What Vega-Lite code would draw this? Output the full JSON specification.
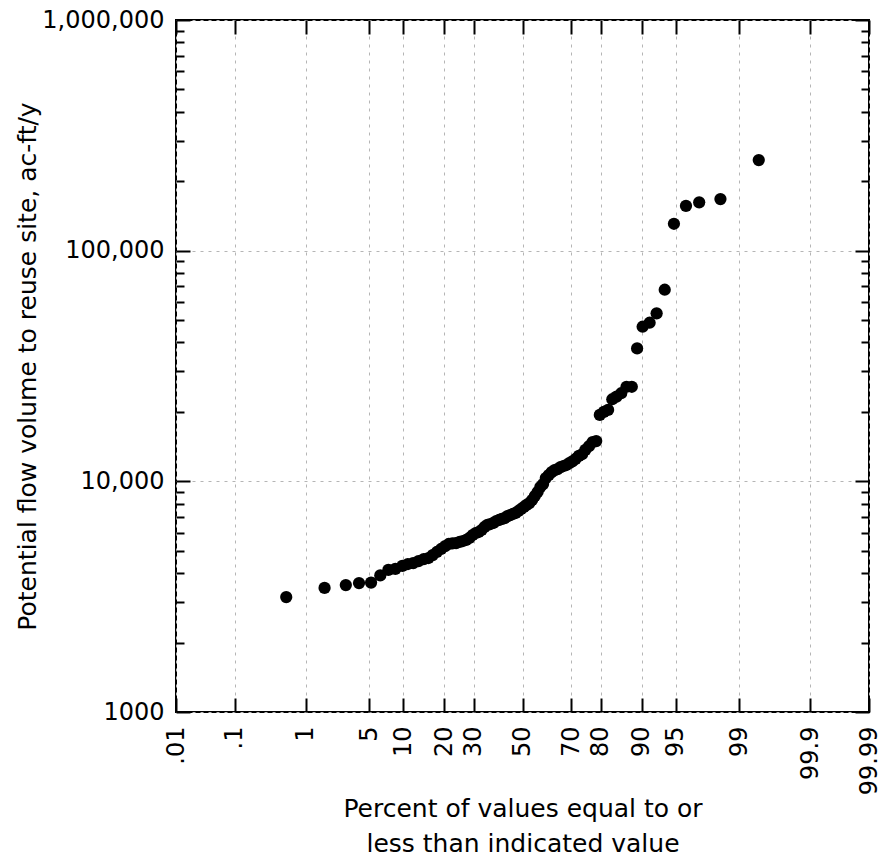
{
  "$schema": "https://vega.github.io/schema/vega-lite/v6.json",
  "width": 693,
  "height": 692,
  "autosize": "none",
  "padding": {"left": 176, "top": 20, "right": 20, "bottom": 146},
  "background": "white",
  "config": {
    "view": {"stroke": "black", "strokeWidth": 2},
    "axis": {
      "labelFont": "DejaVu Sans",
      "titleFont": "DejaVu Sans",
      "labelColor": "black",
      "titleColor": "black",
      "tickColor": "black",
      "domain": false,
      "tickWidth": 2,
      "titleFontWeight": "normal",
      "gridColor": "#b5b5b5",
      "gridDash": [3, 5],
      "gridWidth": 1,
      "labelFlush": false,
      "labelOverlap": false,
      "labelBound": false
    }
  },
  "data": {
    "values": [
      {"p": 0.58, "v": 3150}, {"p": 1.74, "v": 3450}, {"p": 2.91, "v": 3550}, {"p": 4.07, "v": 3620},
      {"p": 5.23, "v": 3640}, {"p": 6.40, "v": 3910}, {"p": 7.56, "v": 4130}, {"p": 8.72, "v": 4170},
      {"p": 9.88, "v": 4300}, {"p": 11.05, "v": 4380}, {"p": 12.21, "v": 4420}, {"p": 13.37, "v": 4510},
      {"p": 14.53, "v": 4600}, {"p": 15.70, "v": 4650}, {"p": 16.86, "v": 4790}, {"p": 18.02, "v": 4940},
      {"p": 19.19, "v": 5090}, {"p": 20.35, "v": 5240}, {"p": 21.51, "v": 5350}, {"p": 22.67, "v": 5380},
      {"p": 23.84, "v": 5400}, {"p": 25.00, "v": 5460}, {"p": 26.16, "v": 5510}, {"p": 27.33, "v": 5570},
      {"p": 28.49, "v": 5680}, {"p": 29.65, "v": 5850}, {"p": 30.81, "v": 5970}, {"p": 31.98, "v": 6030},
      {"p": 33.14, "v": 6150}, {"p": 34.30, "v": 6340}, {"p": 35.47, "v": 6470}, {"p": 36.63, "v": 6530},
      {"p": 37.79, "v": 6600}, {"p": 38.95, "v": 6730}, {"p": 40.12, "v": 6800}, {"p": 41.28, "v": 6870},
      {"p": 42.44, "v": 6930}, {"p": 43.60, "v": 7070}, {"p": 44.77, "v": 7140}, {"p": 45.93, "v": 7220},
      {"p": 47.09, "v": 7290}, {"p": 48.26, "v": 7440}, {"p": 49.42, "v": 7590}, {"p": 50.58, "v": 7740},
      {"p": 51.74, "v": 7900}, {"p": 52.91, "v": 8050}, {"p": 54.07, "v": 8300}, {"p": 55.23, "v": 8640},
      {"p": 56.40, "v": 8990}, {"p": 57.56, "v": 9450}, {"p": 58.72, "v": 9730}, {"p": 59.88, "v": 10330},
      {"p": 61.05, "v": 10650}, {"p": 62.21, "v": 10970}, {"p": 63.37, "v": 11190}, {"p": 64.53, "v": 11300},
      {"p": 65.70, "v": 11530}, {"p": 66.86, "v": 11650}, {"p": 68.02, "v": 11770}, {"p": 69.19, "v": 12000},
      {"p": 70.35, "v": 12200}, {"p": 71.51, "v": 12500}, {"p": 72.67, "v": 12900}, {"p": 73.84, "v": 13100},
      {"p": 75.00, "v": 13700}, {"p": 76.16, "v": 14200}, {"p": 77.33, "v": 14800}, {"p": 78.49, "v": 14950},
      {"p": 79.65, "v": 19400}, {"p": 80.81, "v": 20000}, {"p": 81.98, "v": 20400}, {"p": 83.14, "v": 22700},
      {"p": 84.30, "v": 23300}, {"p": 85.47, "v": 24100}, {"p": 86.63, "v": 25700}, {"p": 87.79, "v": 25700},
      {"p": 88.95, "v": 37700}, {"p": 90.12, "v": 46800}, {"p": 91.28, "v": 48700}, {"p": 92.44, "v": 53500},
      {"p": 93.60, "v": 67700}, {"p": 94.77, "v": 130800}, {"p": 95.93, "v": 156500}, {"p": 97.09, "v": 162000},
      {"p": 98.26, "v": 167400}, {"p": 99.42, "v": 247000}
    ]
  },
  "resolve": {"axis": {"x": "independent", "y": "independent"}},
  "layer": [
    {
      "mark": {"type": "circle", "size": 150, "color": "black", "opacity": 1},
      "encoding": {
        "x": {
          "field": "p", "type": "quantitative",
          "scale": {"type": "linear", "nice": false, "zero": false,
            "domain": [0.01, 0.1, 0.5, 1, 2, 3, 5, 7, 10, 15, 20, 25, 30, 40, 50, 60, 70, 75, 80, 85, 90, 93, 95, 97, 98, 99, 99.5, 99.9, 99.99],
            "range": [0, 58.58, 106.51, 129.76, 155.16, 171.27, 193.25, 209.0, 227.09, 249.94, 268.09, 283.66, 297.64, 322.9, 346.5, 370.1, 395.36, 409.34, 424.91, 443.06, 465.91, 484.0, 499.75, 521.73, 537.84, 563.24, 586.49, 634.42, 693]},
          "axis": {
            "orient": "bottom",
            "values": [0.01, 0.1, 1, 5, 10, 20, 30, 50, 70, 80, 90, 95, 99, 99.9, 99.99],
            "labelExpr": "datum.value < 1 ? replace(format(datum.value, '~g'), '0.', '.') : format(datum.value, '~g')",
            "labelAngle": -90, "labelAlign": "right", "labelBaseline": "middle",
            "labelPadding": 14, "labelFontSize": 24,
            "ticks": false, "grid": true,
            "title": ["Percent of values equal to or", "less than indicated value"],
            "titleFontSize": 25, "titleY": 84, "titleBaseline": "top", "titleLineHeight": 35
          }
        },
        "y": {
          "field": "v", "type": "quantitative",
          "scale": {"type": "log", "domain": [1000, 1000000], "nice": false},
          "axis": {
            "orient": "left",
            "values": [1000, 10000, 100000, 1000000],
            "labelExpr": "datum.value == 1000 ? '1000' : format(datum.value, ',')",
            "labelFontSize": 24, "labelPadding": 12,
            "ticks": false, "grid": true,
            "title": "Potential flow volume to reuse site, ac-ft/y",
            "titleFontSize": 25, "titleX": -141, "titleBaseline": "alphabetic"
          }
        }
      }
    },
    {
      "mark": {"type": "circle", "opacity": 0},
      "encoding": {
        "x": {"field": "p", "type": "quantitative",
          "axis": {"orient": "bottom", "values": [0.01, 0.1, 1, 5, 10, 20, 30, 50, 70, 80, 90, 95, 99, 99.9, 99.99], "labels": false, "grid": false, "ticks": true, "tickSize": -14, "tickColor": "black", "tickOpacity": 1, "title": null}},
        "y": {"field": "v", "type": "quantitative",
          "axis": {"orient": "left", "values": [1000, 10000, 100000, 1000000], "labels": false, "grid": false, "ticks": true, "tickSize": -14, "tickColor": "black", "tickOpacity": 1, "title": null}}
      }
    },
    {
      "mark": {"type": "circle", "opacity": 0},
      "encoding": {
        "x": {"field": "p", "type": "quantitative",
          "axis": {"orient": "top", "values": [0.01, 0.1, 1, 5, 10, 20, 30, 50, 70, 80, 90, 95, 99, 99.9, 99.99], "labels": false, "grid": false, "ticks": true, "tickSize": -14, "tickColor": "black", "tickOpacity": 1, "title": null}},
        "y": {"field": "v", "type": "quantitative",
          "axis": {"orient": "right", "values": [1000, 10000, 100000, 1000000], "labels": false, "grid": false, "ticks": true, "tickSize": -14, "tickColor": "black", "tickOpacity": 1, "title": null}}
      }
    },
    {
      "mark": {"type": "circle", "opacity": 0},
      "encoding": {
        "x": {"field": "p", "type": "quantitative", "axis": null},
        "y": {"field": "v", "type": "quantitative",
          "axis": {"orient": "left", "values": [2000, 3000, 4000, 5000, 6000, 7000, 8000, 9000, 20000, 30000, 40000, 50000, 60000, 70000, 80000, 90000, 200000, 300000, 400000, 500000, 600000, 700000, 800000, 900000], "labels": false, "grid": false, "ticks": true, "tickSize": -8, "tickColor": "black", "tickOpacity": 1, "title": null}}
      }
    },
    {
      "mark": {"type": "circle", "opacity": 0},
      "encoding": {
        "x": {"field": "p", "type": "quantitative", "axis": null},
        "y": {"field": "v", "type": "quantitative",
          "axis": {"orient": "right", "values": [2000, 3000, 4000, 5000, 6000, 7000, 8000, 9000, 20000, 30000, 40000, 50000, 60000, 70000, 80000, 90000, 200000, 300000, 400000, 500000, 600000, 700000, 800000, 900000], "labels": false, "grid": false, "ticks": true, "tickSize": -8, "tickColor": "black", "tickOpacity": 1, "title": null}}
      }
    }
  ]
}
